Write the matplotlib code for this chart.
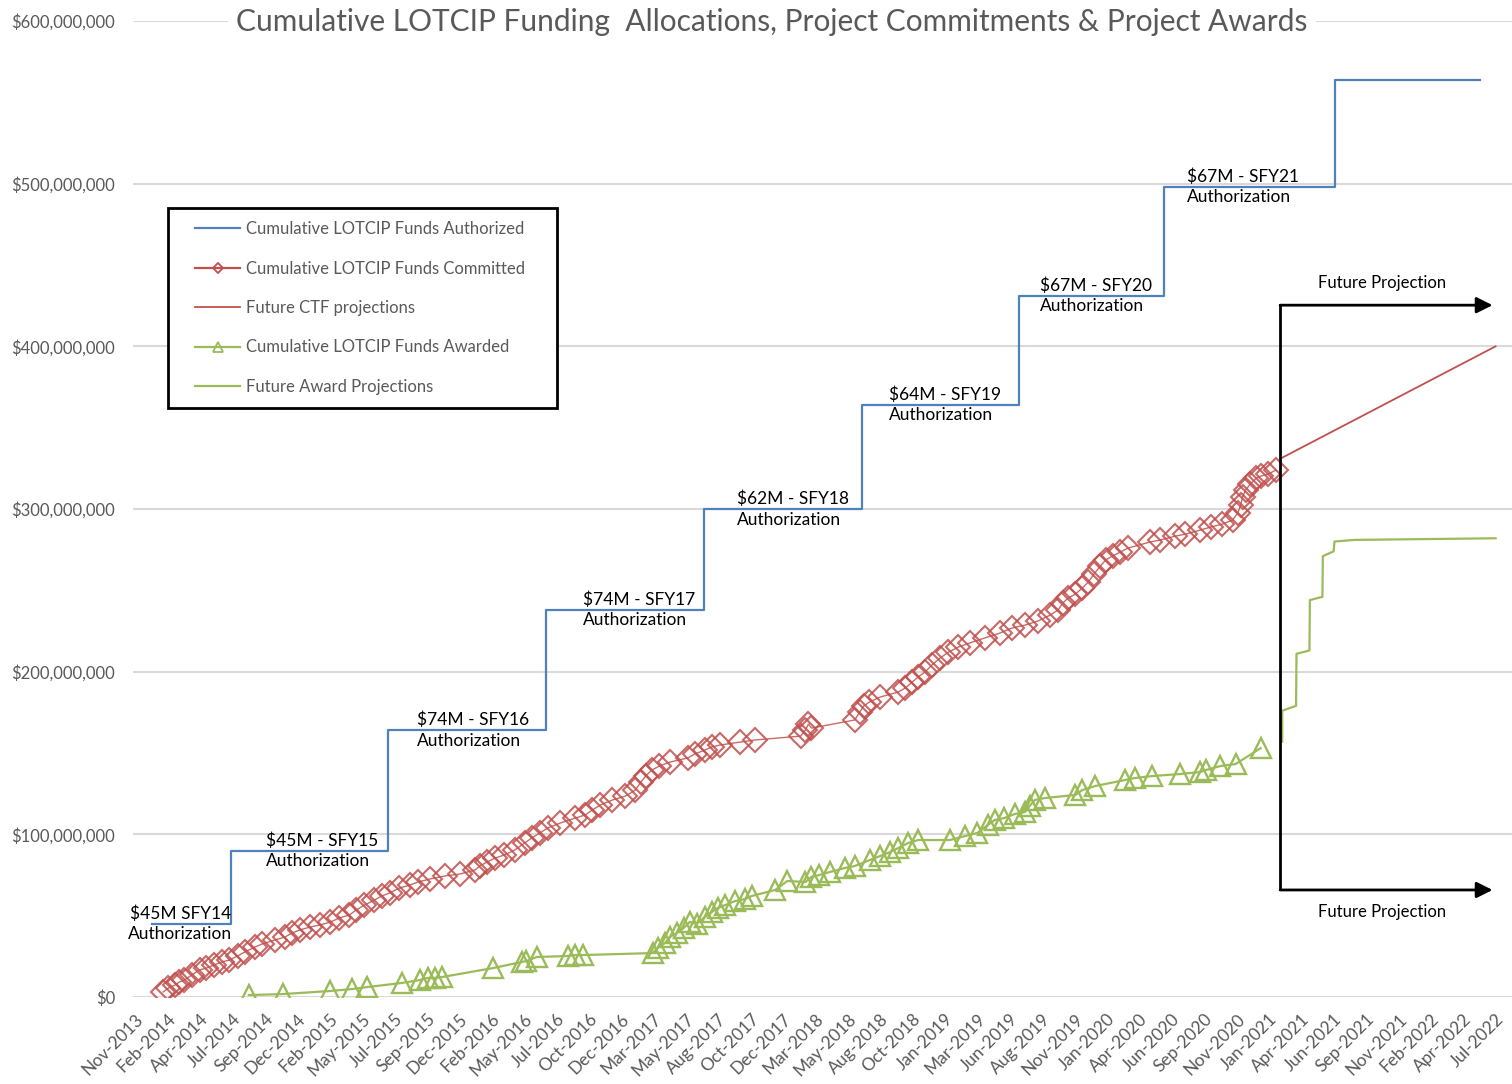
import pandas as pd
import matplotlib
matplotlib.use('Agg')
import matplotlib.pyplot as plt
import matplotlib.dates as mdates
from matplotlib.ticker import FuncFormatter, MultipleLocator
from matplotlib.lines import Line2D
from matplotlib.patches import Rectangle

plt.rcParams['font.family'] = ['Lato', 'DejaVu Sans']

# cumulative authorizations ($M), step series
auth_dates = ['2014-01-01', '2014-07-01', '2015-07-01', '2016-07-01', '2017-07-01',
              '2018-07-01', '2019-07-01', '2020-06-01', '2021-07-01', '2022-06-01']
auth_values = [45, 90, 164, 238, 300, 364, 431, 498, 564, 564]
auth_labels = ['$45M SFY14\nAuthorization', '$45M - SFY15\nAuthorization',
               '$74M - SFY16\nAuthorization', '$74M - SFY17\nAuthorization',
               '$62M - SFY18\nAuthorization', '$64M - SFY19\nAuthorization',
               '$67M - SFY20\nAuthorization', '$67M - SFY21\nAuthorization']

# cumulative commitments ($M)
com_dates = ['2014-01-26', '2014-02-07', '2014-02-23', '2014-03-04', '2014-03-16', '2014-04-02',
             '2014-04-20', '2014-05-06', '2014-05-24', '2014-06-10', '2014-06-28', '2014-07-17',
             '2014-08-03', '2014-08-26', '2014-09-12', '2014-10-11', '2014-11-04', '2014-11-20',
             '2014-12-08', '2015-01-01', '2015-01-24', '2015-02-17', '2015-03-10', '2015-04-02',
             '2015-04-18', '2015-05-07', '2015-05-30', '2015-06-16', '2015-07-04', '2015-07-27',
             '2015-08-20', '2015-09-08', '2015-10-05', '2015-11-09', '2015-12-14', '2016-01-18',
             '2016-01-29', '2016-02-15', '2016-03-04', '2016-03-26', '2016-04-19', '2016-05-12',
             '2016-05-28', '2016-06-16', '2016-07-04', '2016-08-02', '2016-09-06', '2016-09-29',
             '2016-10-15', '2016-11-03', '2016-12-01', '2016-12-31', '2017-01-23', '2017-02-05',
             '2017-02-16', '2017-03-02', '2017-03-20', '2017-04-13', '2017-05-24', '2017-06-10',
             '2017-07-03', '2017-07-19', '2017-08-07', '2017-09-23', '2017-10-27', '2018-02-10',
             '2018-02-21', '2018-02-28', '2018-03-07', '2018-06-15', '2018-06-27', '2018-07-06',
             '2018-07-19', '2018-08-13', '2018-09-24', '2018-10-10', '2018-10-26', '2018-11-09',
             '2018-11-25', '2018-12-11', '2018-12-30', '2019-01-18', '2019-02-10', '2019-03-08',
             '2019-04-12', '2019-05-17', '2019-06-14', '2019-07-14', '2019-08-13', '2019-09-11',
             '2019-09-29', '2019-10-10', '2019-10-22', '2019-11-08', '2019-11-24', '2019-12-08',
             '2019-12-21', '2020-01-05', '2020-01-17', '2020-02-02', '2020-02-20', '2020-03-09',
             '2020-04-29', '2020-05-22', '2020-06-26', '2020-07-19', '2020-08-23', '2020-09-16',
             '2020-10-13', '2020-11-06', '2020-11-18', '2020-11-25', '2020-11-29', '2020-12-06',
             '2020-12-17', '2020-12-31', '2021-01-10', '2021-01-28', '2021-02-14']
com_values = [3.1, 5.5, 7.4, 9.2, 10.4, 13.5, 16.6, 17.8, 19.7, 21.5, 22.7, 25.2,
              27.7, 30.7, 32.6, 35.0, 36.9, 39.3, 41.2, 43.0, 44.3, 46.1, 48.6, 50.4,
              53.5, 56.5, 59.6, 62.1, 63.9, 67.0, 68.8, 70.7, 72.5, 74.4, 75.6, 78.1,
              80.5, 83.0, 85.4, 87.3, 90.4, 94.7, 97.7, 100.8, 103.9, 106.9, 110.0, 111.9,
              114.9, 118.0, 121.1, 123.5, 127.2, 132.1, 135.8, 139.5, 142.0, 144.4, 146.9, 149.4,
              151.8, 153.7, 154.9, 156.7, 158.0, 160.4, 164.1, 167.8, 165.3, 170.3, 175.2, 178.9,
              181.3, 184.4, 187.5, 189.9, 193.6, 196.7, 199.8, 204.1, 208.4, 212.0, 215.1, 217.6,
              220.7, 223.7, 226.8, 228.6, 231.1, 234.8, 237.9, 242.2, 245.2, 247.7, 251.4, 255.1,
              260.0, 264.9, 268.6, 271.1, 273.5, 276.0, 279.7, 280.9, 283.3, 284.5, 287.0, 288.9,
              290.7, 293.2, 297.5, 302.4, 307.3, 311.6, 315.3, 319.0, 320.2, 321.5, 323.9]

# future CTF projection ($M)
ctf_dates = ['2021-02-25', '2022-07-08']
ctf_values = [331, 400]

# cumulative awards ($M)
awd_dates = ['2014-08-12', '2014-10-30', '2015-02-17', '2015-04-09', '2015-05-13', '2015-08-01',
             '2015-09-12', '2015-09-30', '2015-10-17', '2015-11-03', '2016-02-29', '2016-05-05',
             '2016-05-16', '2016-06-09', '2016-08-20', '2016-09-06', '2016-09-25', '2017-03-04',
             '2017-03-16', '2017-04-02', '2017-04-13', '2017-04-29', '2017-05-15', '2017-05-29',
             '2017-06-14', '2017-07-03', '2017-07-19', '2017-08-02', '2017-08-19', '2017-09-11',
             '2017-10-04', '2017-10-20', '2017-12-13', '2018-01-10', '2018-02-21', '2018-03-07',
             '2018-03-25', '2018-04-18', '2018-05-23', '2018-06-15', '2018-07-20', '2018-08-13',
             '2018-09-05', '2018-09-24', '2018-10-17', '2018-11-09', '2019-01-22', '2019-02-26',
             '2019-03-26', '2019-04-19', '2019-05-05', '2019-05-27', '2019-06-21', '2019-07-14',
             '2019-07-25', '2019-08-06', '2019-08-29', '2019-11-08', '2019-11-24', '2019-12-24',
             '2020-03-02', '2020-03-24', '2020-05-03', '2020-07-08', '2020-08-23', '2020-09-05',
             '2020-10-09', '2020-11-13', '2021-01-10']
awd_values = [1.2, 1.8, 3.7, 4.9, 6.1, 8.6, 10.4, 11.7, 11.7, 12.3, 17.8, 21.5,
              22.1, 24.6, 25.2, 25.8, 25.8, 27.0, 30.1, 33.2, 36.9, 39.3, 42.4, 46.1,
              44.9, 49.2, 52.2, 54.7, 56.5, 59.0, 60.2, 62.1, 65.8, 71.3, 70.7, 73.8,
              75.0, 76.8, 79.3, 80.5, 84.2, 86.7, 89.1, 91.6, 94.7, 96.5, 96.5, 99.0,
              100.8, 105.7, 108.8, 110.0, 112.5, 113.7, 117.4, 121.1, 122.3, 124.2, 127.2, 129.7,
              133.4, 134.6, 135.8, 137.1, 138.3, 139.5, 142.0, 143.2, 153.0]

# future award projection ($M)
fap_dates = ['2021-03-01', '2021-03-01', '2021-04-02', '2021-04-03', '2021-05-03', '2021-05-04',
             '2021-06-02', '2021-06-03', '2021-06-28', '2021-06-30', '2021-08-15', '2022-07-08']
fap_values = [157, 176, 179, 211, 213, 244, 246, 271, 274, 280, 281, 282]

BLUE, RED, GREEN = '#4F81BD', '#C0504D', '#9BBB59'
GRAY = '#595959'

fig = plt.figure(figsize=(15.12, 10.84), dpi=100)
ax = fig.add_axes([133/1512, 87/1084, 1379/1512, 976/1084])

ax.plot(pd.to_datetime(auth_dates), auth_values, drawstyle='steps-post', color=BLUE, lw=1.6, zorder=3)
ax.plot(pd.to_datetime(com_dates), com_values, color=RED, lw=1.0, marker='D', ms=12.5,
        mfc='none', mec=RED, mew=1.5, alpha=0.85, zorder=4)
ax.plot(pd.to_datetime(ctf_dates), ctf_values, color=RED, lw=1.3, zorder=4)
ax.plot(pd.to_datetime(awd_dates), awd_values, color=GREEN, lw=1.6, marker='^', ms=15,
        mfc='none', mec=GREEN, mew=1.7, zorder=4)
ax.plot(pd.to_datetime(fap_dates), fap_values, color=GREEN, lw=1.6, zorder=4)

# authorization labels next to each step
label_dx = [28, 35, 29, 37, 33, 27, 21, 23]
for i, txt in enumerate(auth_labels):
    ax.annotate(txt, xy=(pd.Timestamp(auth_dates[i]), auth_values[i]),
                xytext=(label_dx[i], 0), textcoords='offset pixels',
                ha='center' if i == 0 else 'left', va='center',
                multialignment='center' if i == 0 else 'left',
                fontsize=12.5, color='black', linespacing=1.35, zorder=5)

# future projection brackets
x0, x1 = pd.Timestamp('2021-02-24'), pd.Timestamp('2022-07-01')
ytop, ybot = 425.3, 65.8
ax.plot([x0, x0], [ybot, ytop], color='black', lw=2, zorder=6, solid_capstyle='butt')
for yy in (ytop, ybot):
    ax.annotate('', xy=(x1, yy), xytext=(x0, yy),
                arrowprops=dict(arrowstyle='-|>', color='black', lw=2, mutation_scale=24,
                                shrinkA=0, shrinkB=0), zorder=6)
xm = pd.Timestamp('2021-10-18')
ax.text(xm, ytop + 13.5, 'Future Projection', ha='center', va='center', fontsize=12, color='black')
ax.text(xm, ybot - 13.5, 'Future Projection', ha='center', va='center', fontsize=12, color='black')

# axes styling
ax.set_ylim(0, 600)
ax.yaxis.set_major_locator(MultipleLocator(100))
ax.yaxis.set_major_formatter(FuncFormatter(lambda v, p: f'${v*1e6:,.0f}'))
ax.set_xlim(pd.Timestamp('2013-11-17'), pd.Timestamp('2022-08-15'))
ax.set_xticks(pd.date_range('2013-11-22', periods=43, freq='75D'))
ax.xaxis.set_major_formatter(mdates.DateFormatter('%b-%Y'))
ax.grid(axis='y', color='#D9D9D9', lw=1.5)
ax.set_axisbelow(True)
for s in ax.spines.values():
    s.set_visible(False)
ax.tick_params(axis='both', length=0, colors=GRAY)
ax.tick_params(axis='y', labelsize=12, pad=13)
ax.tick_params(axis='x', labelsize=12.5, pad=10)
for lab in ax.get_xticklabels():
    lab.set_rotation(45)
    lab.set_ha('right')
    lab.set_rotation_mode('anchor')

fig.text(772/1512, 1 - 22/1084, 'Cumulative LOTCIP Funding  Allocations, Project Commitments & Project Awards',
         ha='center', va='center', fontsize=21.5, color=GRAY,
         bbox=dict(facecolor='white', edgecolor='none', pad=6))

# legend: frame drawn separately so the inner padding matches
fig.add_artist(Rectangle((168/1512, 1 - 408/1084), 389/1512, 200/1084, transform=fig.transFigure,
                         facecolor='white', edgecolor='black', lw=2, zorder=7))
handles = [Line2D([], [], color=BLUE, lw=1.6),
           Line2D([], [], color=RED, lw=1.6, marker='D', ms=5, mfc='none', mew=1.3),
           Line2D([], [], color=RED, lw=1.3),
           Line2D([], [], color=GREEN, lw=1.6, marker='^', ms=7, mfc='none', mew=1.3),
           Line2D([], [], color=GREEN, lw=1.6)]
names = ['Cumulative LOTCIP Funds Authorized', 'Cumulative LOTCIP Funds Committed',
         'Future CTF projections', 'Cumulative LOTCIP Funds Awarded', 'Future Award Projections']
leg = fig.legend(handles, names, loc='upper left', bbox_to_anchor=(195/1512, 1 - 221/1084),
                 bbox_transform=fig.transFigure, borderaxespad=0, borderpad=0, fontsize=12,
                 labelcolor=GRAY, frameon=False, handlelength=2.7,
                 labelspacing=1.41, handletextpad=0.35)
leg.set_zorder(8)

fig.savefig('out.png', dpi=100)
